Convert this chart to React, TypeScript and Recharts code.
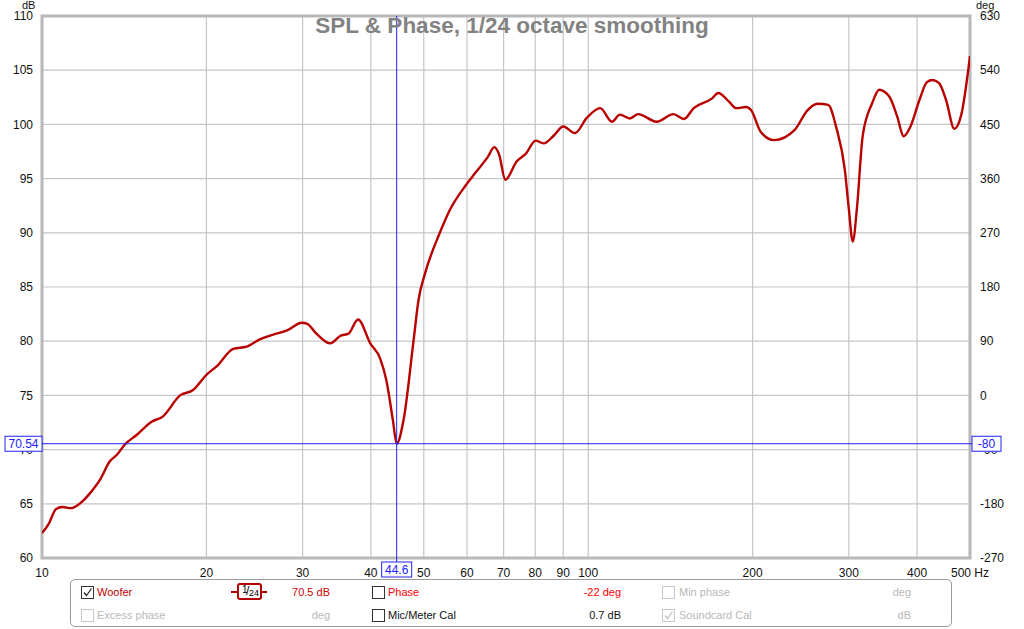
import React from 'react';
import { LineChart, Line, XAxis, YAxis, CartesianGrid, ReferenceLine, ReferenceArea } from 'recharts';

const freqHz = [
  10, 10.3, 10.6, 10.9, 11.3, 11.9, 12.3, 12.8, 13.3, 13.7, 14.2, 14.9, 15.9, 16.6, 17.9, 18.9,
  20, 20.9, 22.4, 23.7, 25.1, 26.5, 28.1, 29.9, 30.6, 31.8, 33.7, 35.2, 36.4, 37.9, 39.9, 41.6,
  42.7, 43.9, 44.6, 45.9, 47.9, 48.9, 50.3, 53.5, 55.8, 59.5, 62.3, 65.5, 67.3, 68.7, 70.5, 74,
  76.9, 80.1, 82.9, 86.6, 90, 94.6, 99.4, 105.2, 110.5, 114.3, 119.2, 123.4, 133.4, 143.2, 149.7,
  156, 168.6, 173, 181, 186.6, 194.6, 198.8, 207, 219, 238.8, 252, 263, 275, 284.6, 295, 300, 305,
  310.6, 318, 331, 341, 356, 368, 378, 389, 404, 417, 427, 439, 452, 468, 482, 500,
];
const splDb = [
  62.3, 63.2, 64.5, 64.7, 64.6, 65.3, 66.1, 67.3, 68.9, 69.5, 70.5, 71.35, 72.6, 73.0, 75.0, 75.5,
  76.9, 77.7, 79.3, 79.5, 80.2, 80.6, 81.0, 81.7, 81.6, 80.7, 79.8, 80.5, 80.7, 82.0, 79.8, 78.4,
  76.4, 72.7, 70.54, 72.7, 80.1, 83.8, 86.3, 90.0, 92.1, 94.3, 95.6, 97.0, 97.9, 97.2, 94.9, 96.6,
  97.3, 98.5, 98.25, 99.0, 99.8, 99.2, 100.6, 101.5, 100.25, 100.9, 100.55, 100.95, 100.25, 100.95, 100.5,
  101.5, 102.4, 102.9, 102.1, 101.5, 101.6, 101.3, 99.3, 98.55, 99.5, 101.3, 101.9, 101.8, 99.7, 95.8, 92.2, 89.2,
  92.4, 98.9, 101.95, 103.2, 102.55, 100.7, 98.9, 99.8, 102.25, 103.9, 104.1, 103.8, 102.25, 99.6, 100.9, 106.3,
];

const freqTicks = [10, 20, 30, 40, 50, 60, 70, 80, 90, 100, 200, 300, 400, 500];
const dbTicks = [60, 65, 70, 75, 80, 85, 90, 95, 100, 105, 110];
const degTicks = [-270, -180, -90, 0, 90, 180, 270, 360, 450, 540, 630];

const cursorHz = 44.6;
const cursorDb = 70.54;
const cursorDeg = -80;

const data = freqHz.map((f, i) => ({ f, spl: splDb[i] }));

const FONT = '"Liberation Sans", Arial, sans-serif';
const BLUE = '#2020ff';

const CursorTag = (props: any) => {
  const { viewBox, side, text } = props;
  if (!viewBox) return null;
  const { x, y, width, height } = viewBox;
  let rx = 0, ry = 0, w = 0;
  const h = 15;
  if (side === 'left') { w = 37; rx = x - w; ry = y - h / 2; }
  if (side === 'right') { w = 29; rx = x + width + 2; ry = y - h / 2; }
  if (side === 'bottom') { w = 30; rx = x - w / 2; ry = y + height + 4; }
  return (
    <g>
      {side === 'bottom' && <line x1={x} x2={x} y1={y + height} y2={ry} stroke={BLUE} strokeWidth={1} />}
      {side === 'right' && <line x1={x + width} x2={rx} y1={y} y2={y} stroke={BLUE} strokeWidth={1} />}
      <rect x={rx} y={ry} width={w} height={h} fill="#fff" stroke={BLUE} strokeWidth={1} />
      <text x={rx + w / 2} y={ry + h / 2 + 4.5} textAnchor="middle" fontSize={12} fill={BLUE} fontFamily={FONT}>{text}</text>
    </g>
  );
};

const Box = ({ x, y, checked, disabled }: { x: number; y: number; checked?: boolean; disabled?: boolean }) => (
  <div style={{
    position: 'absolute', left: x, top: y, width: 11, height: 11,
    border: `1px solid ${disabled ? '#c8c8c8' : '#333'}`, background: '#fff',
  }}>
    {checked && (
      <svg width={11} height={11} style={{ position: 'absolute', left: 0, top: 0 }}>
        <path d="M2 5.5 L4.5 8.5 L9.5 1.5" fill="none" stroke={disabled ? '#c0c0c0' : '#222'} strokeWidth={1.2} />
      </svg>
    )}
  </div>
);

const Txt = ({ x, y, color, children, right }: any) => (
  <div style={{
    position: 'absolute', top: y, fontSize: 11, color, whiteSpace: 'nowrap', lineHeight: '13px',
    ...(right ? { right: 882 - x, textAlign: 'right' } : { left: x }),
  }}>{children}</div>
);

export default function App() {
  return (
    <div style={{ position: 'absolute', left: 0, top: 0, width: 1024, height: 629, background: '#fff', fontFamily: FONT }}>
      <LineChart width={1024} height={629} data={data} margin={{ top: 16, right: 0, bottom: 51, left: 0 }}>
        <CartesianGrid yAxisId="db" stroke="#c6c6c6" strokeWidth={1.2} />
        <XAxis
          dataKey="f" type="number" scale="log" domain={[10, 500]} ticks={freqTicks} allowDataOverflow
          height={20} tickLine={false} axisLine={false} tickMargin={4} interval={0}
          tick={{ fontSize: 12, fill: '#111', fontFamily: FONT }}
          tickFormatter={(v: number) => (v === 500 ? '500 Hz' : String(v))}
        />
        <YAxis
          yAxisId="db" domain={[60, 110]} ticks={dbTicks} width={42} tickLine={false} axisLine={false}
          tickMargin={3} interval={0} tick={{ fontSize: 12, fill: '#111', fontFamily: FONT }}
        />
        <YAxis
          yAxisId="deg" orientation="right" type="number" domain={[-270, 630]} ticks={degTicks} width={54}
          tickLine={false} allowDataOverflow axisLine={false} tickMargin={4} interval={0}
          tick={{ fontSize: 12, fill: '#111', fontFamily: FONT }}
        />
        <ReferenceArea yAxisId="db" x1={10} x2={500} y1={60} y2={110} fill="none" stroke="#b8b8b8" strokeWidth={3} />
        {/* invisible series so the phase axis gets drawn */}
        <Line yAxisId="deg" dataKey="spl" stroke="none" dot={false} isAnimationActive={false} />
        <Line
          yAxisId="db" dataKey="spl" type="monotone" stroke="#b80000" strokeWidth={2.4} dot={false}
          isAnimationActive={false}
        />
        <ReferenceLine yAxisId="db" x={cursorHz} stroke={BLUE} strokeWidth={1} zIndex={2000}
          label={<CursorTag side="bottom" text={String(cursorHz)} />} />
        <ReferenceLine yAxisId="db" y={cursorDb} stroke={BLUE} strokeWidth={1} zIndex={2000}
          label={<CursorTag side="left" text={cursorDb.toFixed(2)} />} />
        <ReferenceLine yAxisId="db" y={cursorDb} stroke="none" zIndex={2000}
          label={<CursorTag side="right" text={String(cursorDeg)} />} />
      </LineChart>

      <div style={{ position: 'absolute', left: 0, width: 1024, top: 13, textAlign: 'center', fontSize: 22.5, fontWeight: 'bold', color: '#828282', pointerEvents: 'none' }}>
        SPL &amp; Phase, 1/24 octave smoothing
      </div>
      <div style={{ position: 'absolute', left: 22, top: 0, fontSize: 11, lineHeight: '11px', color: '#111' }}>dB</div>
      <div style={{ position: 'absolute', left: 976, top: 0, fontSize: 11, lineHeight: '11px', color: '#111' }}>deg</div>

      <div style={{ position: 'absolute', left: 70, top: 579, width: 882, height: 48, border: '1px solid #9a9a9a', borderRadius: 5, boxSizing: 'border-box' }}>
        <Box x={10} y={6} checked />
        <Txt x={26} y={6} color="#c00000">Woofer</Txt>
        <div style={{ position: 'absolute', left: 160, top: 11, width: 36, height: 2, background: '#b00000' }} />
        <div style={{ position: 'absolute', left: 166, top: 3, width: 25, height: 17, border: '2px solid #b00000', borderRadius: 3, background: '#fff', boxSizing: 'border-box', color: '#000' }}>
          <span style={{ position: 'absolute', left: 3, top: -1, fontSize: 10 }}>1</span>
          <span style={{ position: 'absolute', left: 7, top: -1, fontSize: 12 }}>/</span>
          <span style={{ position: 'absolute', left: 10, top: 3, fontSize: 9 }}>24</span>
        </div>
        <Txt x={261} y={6} color="#d00000" right>70.5 dB</Txt>
        <Box x={301} y={6} />
        <Txt x={317} y={6} color="#ff0000">Phase</Txt>
        <Txt x={552} y={6} color="#ff0000" right>-22 deg</Txt>
        <Box x={591} y={6} disabled />
        <Txt x={608} y={6} color="#b8b8b8">Min phase</Txt>
        <Txt x={842} y={6} color="#b8b8b8" right>deg</Txt>

        <Box x={10} y={29} disabled />
        <Txt x={26} y={29} color="#b8b8b8">Excess phase</Txt>
        <Txt x={261} y={29} color="#b8b8b8" right>deg</Txt>
        <Box x={301} y={29} />
        <Txt x={317} y={29} color="#111">Mic/Meter Cal</Txt>
        <Txt x={552} y={29} color="#111" right>0.7 dB</Txt>
        <Box x={591} y={29} checked disabled />
        <Txt x={608} y={29} color="#b8b8b8">Soundcard Cal</Txt>
        <Txt x={842} y={29} color="#b8b8b8" right>dB</Txt>
      </div>
    </div>
  );
}
